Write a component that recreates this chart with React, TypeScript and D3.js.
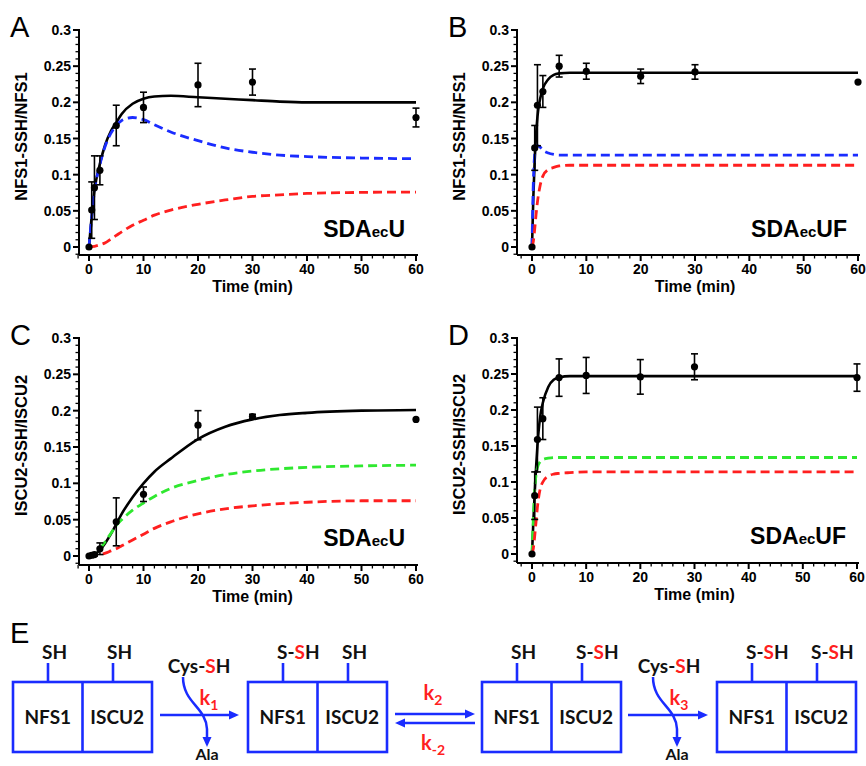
import React from "react";
import * as d3 from "d3";

// measured time points (min)
const sampleTimes = [0, 0.5, 1, 2, 5, 10, 20, 30, 60];
const aMean = [0, 0.051, 0.082, 0.106, 0.168, 0.193, 0.224, 0.228, 0.179];
const aErr = [0, 0.039, 0.044, 0.02, 0.028, 0.021, 0.03, 0.018, 0.013];
const bMean = [0, 0.137, 0.196, 0.215, 0.25, 0.243, 0.236, 0.242, 0.228];
const bErr = [0, 0.031, 0.056, 0.022, 0.015, 0.011, 0.01, 0.01, 0];
const cMean = [0, 0.001, 0.002, 0.01, 0.047, 0.085, 0.18, 0.192, 0.188];
const cErr = [0, 0, 0.002, 0.008, 0.033, 0.01, 0.02, 0.003, 0];
const dMean = [0, 0.081, 0.159, 0.188, 0.245, 0.248, 0.246, 0.26, 0.245];
const dErr = [0, 0.033, 0.045, 0.029, 0.026, 0.025, 0.024, 0.018, 0.019];

// model curves
const slowTimes = [0, 1, 2, 3, 4, 5, 6, 8, 10, 12, 15, 20, 25, 30, 35, 40, 50, 60];
const fastTimes = [0, 0.25, 0.5, 0.75, 1, 1.5, 2, 3, 4, 5, 7, 10, 20, 40, 60];

const aTotal = [0, 0.078, 0.115, 0.142, 0.16, 0.172, 0.184, 0.198, 0.205, 0.208, 0.209, 0.207, 0.205, 0.203, 0.201, 0.2, 0.2, 0.2];
const aFirst = [0, 0.077, 0.114, 0.14, 0.157, 0.168, 0.175, 0.179, 0.176, 0.169, 0.159, 0.147, 0.137, 0.131, 0.127, 0.125, 0.123, 0.122];
const aBoth = [0, 0.001, 0.003, 0.006, 0.011, 0.016, 0.021, 0.03, 0.037, 0.044, 0.051, 0.059, 0.065, 0.07, 0.072, 0.074, 0.0755, 0.076];

const bTotal = [0, 0.07, 0.12, 0.155, 0.18, 0.205, 0.219, 0.232, 0.238, 0.24, 0.241, 0.241, 0.241, 0.241, 0.241];
const bFirst = [0, 0.09, 0.128, 0.138, 0.14, 0.138, 0.134, 0.13, 0.128, 0.127, 0.127, 0.127, 0.127, 0.127, 0.127];
const bBoth = [0, 0.008, 0.025, 0.045, 0.062, 0.085, 0.098, 0.107, 0.11, 0.112, 0.113, 0.113, 0.113, 0.113, 0.113];

const cTotal = [0, 0.002, 0.008, 0.018, 0.03, 0.044, 0.058, 0.081, 0.1, 0.116, 0.134, 0.161, 0.178, 0.188, 0.194, 0.197, 0.2, 0.201];
const cSecond = [0, 0.002, 0.01, 0.02, 0.031, 0.042, 0.05, 0.063, 0.073, 0.082, 0.093, 0.104, 0.112, 0.117, 0.12, 0.122, 0.124, 0.125];
const cBoth = [0, 0.001, 0.002, 0.004, 0.007, 0.01, 0.014, 0.022, 0.03, 0.038, 0.047, 0.058, 0.065, 0.069, 0.072, 0.074, 0.076, 0.076];

const dTotal = [0, 0.045, 0.085, 0.12, 0.15, 0.19, 0.21, 0.232, 0.242, 0.245, 0.247, 0.247, 0.247, 0.247, 0.247];
const dSecond = [0, 0.05, 0.09, 0.11, 0.12, 0.128, 0.131, 0.133, 0.134, 0.134, 0.134, 0.134, 0.134, 0.134, 0.134];
const dBoth = [0, 0.008, 0.025, 0.045, 0.065, 0.09, 0.1, 0.108, 0.111, 0.112, 0.113, 0.114, 0.114, 0.114, 0.114];

const BLUE = "#1a2cff";
const RED = "#ff1f1f";
const GREEN = "#2fe82f";
const FONT = "'Liberation Sans', Arial, sans-serif";
const DFONT = "Lato, 'Open Sans', sans-serif";

type Curve = { t: number[]; v: number[]; color: string; dashed: boolean };

function Panel(props: {
  axisX: number; x0: number; x1: number; yBottom: number; yTop: number; base: number;
  letter: string; ylabel: string; tagMain: string; tagTail: string;
  mean: number[]; err: number[]; curves: Curve[];
}) {
  const { axisX, x0, x1, yBottom, yTop, base, letter, ylabel, tagMain, tagTail, mean, err, curves } = props;
  const x = d3.scaleLinear().domain([0, 60]).range([x0, x1]);
  const y = d3.scaleLinear().domain([0, 0.3]).range([yBottom, yTop]);
  const line = d3.line<[number, number]>().x(d => x(d[0])).y(d => y(d[1])).curve(d3.curveMonotoneX);
  const minorX = d3.range(-2, 61, 2).filter(v => v % 10 !== 0);
  const minorY = d3.range(-0.01, 0.3, 0.01).filter(v => Math.abs(Math.round(v * 100) % 5) !== 0);
  const xEnd = x(60) + 2;
  const midX = (x0 + x1) / 2;
  const midY = (yTop + base) / 2 - 6;
  const dashed = curves.filter(c => c.dashed);
  const solid = curves.filter(c => !c.dashed);
  return (
    <g>
      <text x={axisX - 69} y={yTop + 7} fontFamily={FONT} fontSize={29}>{letter}</text>
      <text transform={`translate(${axisX - 52},${midY}) rotate(-90)`} textAnchor="middle"
        fontFamily={FONT} fontWeight="bold" fontSize={16.5}>{ylabel}</text>
      {/* y axis */}
      <line x1={axisX} x2={axisX} y1={yTop - 1} y2={base} stroke="#000" strokeWidth={2} />
      {y.ticks(6).map(v => (
        <g key={"y" + v}>
          <line x1={axisX - 6} x2={axisX} y1={y(v)} y2={y(v)} stroke="#000" strokeWidth={2} />
          <text x={axisX - 8} y={y(v) + 5} textAnchor="end" fontFamily={FONT} fontWeight="bold" fontSize={14}>
            {String(+v.toFixed(2))}
          </text>
        </g>
      ))}
      {minorY.map(v => (
        <line key={"my" + v} x1={axisX - 3.5} x2={axisX} y1={y(v)} y2={y(v)} stroke="#000" strokeWidth={1.3} />
      ))}
      {/* x axis */}
      <line x1={axisX} x2={xEnd} y1={base} y2={base} stroke="#000" strokeWidth={2} />
      {x.ticks(6).map(v => (
        <g key={"x" + v}>
          <line x1={x(v)} x2={x(v)} y1={base} y2={base + 6} stroke="#000" strokeWidth={2} />
          <text x={x(v)} y={base + 19} textAnchor="middle" fontFamily={FONT} fontWeight="bold" fontSize={14}>{v}</text>
        </g>
      ))}
      {minorX.map(v => (
        <line key={"mx" + v} x1={x(v)} x2={x(v)} y1={base} y2={base + 3.5} stroke="#000" strokeWidth={1.3} />
      ))}
      <text x={midX} y={base + 37} textAnchor="middle" fontFamily={FONT} fontWeight="bold" fontSize={16}>Time (min)</text>
      {/* curves */}
      {solid.map((c, i) => (
        <path key={"s" + i} d={line(c.t.map((t, j) => [t, c.v[j]] as [number, number])) || ""}
          fill="none" stroke={c.color} strokeWidth={2.6} />
      ))}
      {dashed.map((c, i) => (
        <path key={"d" + i} d={line(c.t.map((t, j) => [t, c.v[j]] as [number, number])) || ""}
          fill="none" stroke={c.color} strokeWidth={2.8} strokeDasharray="9,5" />
      ))}
      {/* data */}
      {sampleTimes.map((t, i) => (
        <g key={"p" + i}>
          {err[i] > 0 && (
            <g stroke="#000" strokeWidth={1.6}>
              <line x1={x(t)} x2={x(t)} y1={y(mean[i] - err[i])} y2={y(mean[i] + err[i])} />
              <line x1={x(t) - 3.5} x2={x(t) + 3.5} y1={y(mean[i] - err[i])} y2={y(mean[i] - err[i])} />
              <line x1={x(t) - 3.5} x2={x(t) + 3.5} y1={y(mean[i] + err[i])} y2={y(mean[i] + err[i])} />
            </g>
          )}
          <circle cx={x(t)} cy={y(mean[i])} r={3.6} fill="#000" />
        </g>
      ))}
      <text x={x(60) - 11} y={yBottom - 10} textAnchor="end" fontFamily={FONT} fontWeight="bold" fontSize={23}>
        {tagMain}<tspan fontSize={15}>ec</tspan>{tagTail}
      </text>
    </g>
  );
}

// scheme (panel E)
const boxLefts = [13, 248, 482, 717];
const boxWidth = 139;
const leftLabels = [["SH"], ["S-", "S", "H"], ["SH"], ["S-", "S", "H"]];
const rightLabels = [["SH"], ["SH"], ["S-", "S", "H"], ["S-", "S", "H"]];
const boxTop = 682;
const boxBottom = 752;

function Label({ x, y, parts }: { x: number; y: number; parts: string[] }) {
  return (
    <text x={x} y={y} fontFamily={DFONT} fontWeight="bold" fontSize={19} fill="#111">
      {parts.map((p, i) => (
        <tspan key={i} fill={parts.length === 3 && i === 1 ? RED : "#111"}>{p}</tspan>
      ))}
    </text>
  );
}

function Arrow({ x1, x2, y }: { x1: number; x2: number; y: number }) {
  const dir = x2 > x1 ? 1 : -1;
  return (
    <g>
      <line x1={x1} x2={x2 - dir * 6} y1={y} y2={y} stroke={BLUE} strokeWidth={2.5} />
      <path d={`M${x2},${y} L${x2 - dir * 10},${y - 4.5} L${x2 - dir * 10},${y + 4.5} Z`} fill={BLUE} />
    </g>
  );
}

function KLabel({ x, y, sub }: { x: number; y: number; sub: string }) {
  return (
    <text x={x} y={y} fontFamily={DFONT} fontWeight="bold" fontSize={20} fill={RED} textAnchor="middle">
      k<tspan fontSize={14} dy={5}>{sub}</tspan>
    </text>
  );
}

function CysStep({ cx, ax1, ax2, k }: { cx: number; ax1: number; ax2: number; k: string }) {
  const sx = cx - 16;
  return (
    <g>
      <Arrow x1={ax1} x2={ax2} y={715} />
      <text x={cx} y={673} textAnchor="middle" fontFamily={DFONT} fontWeight="bold" fontSize={19} fill="#111">
        Cys-<tspan fill={RED}>S</tspan>H
      </text>
      <path d={`M${sx},677 C${sx},703 ${sx + 23},707 ${sx + 24},729 L${sx + 24},738`} fill="none" stroke={BLUE} strokeWidth={2.5} />
      <path d={`M${sx + 24},747 L${sx + 19.5},737 L${sx + 28.5},737 Z`} fill={BLUE} />
      <KLabel x={cx + 10} y={705} sub={k} />
      <text x={sx + 24} y={760} textAnchor="middle" fontFamily={DFONT} fontWeight="bold" fontSize={16} fill="#111">Ala</text>
    </g>
  );
}

export default function App() {
  return (
    <svg width={866} height={766} style={{ position: "absolute", left: 0, top: 0, background: "#fff" }}>
      <Panel axisX={79} x0={89} x1={416} yBottom={247} yTop={30} base={255} letter="A" ylabel="NFS1-SSH/NFS1"
        tagMain="SDA" tagTail="U" mean={aMean} err={aErr}
        curves={[
          { t: slowTimes, v: aTotal, color: "#000", dashed: false },
          { t: slowTimes, v: aFirst, color: BLUE, dashed: true },
          { t: slowTimes, v: aBoth, color: RED, dashed: true },
        ]} />
      <Panel axisX={517} x0={532} x1={858} yBottom={247} yTop={30} base={255} letter="B" ylabel="NFS1-SSH/NFS1"
        tagMain="SDA" tagTail="UF" mean={bMean} err={bErr}
        curves={[
          { t: fastTimes, v: bTotal, color: "#000", dashed: false },
          { t: fastTimes, v: bFirst, color: BLUE, dashed: true },
          { t: fastTimes, v: bBoth, color: RED, dashed: true },
        ]} />
      <Panel axisX={79} x0={89} x1={416} yBottom={556} yTop={338} base={565} letter="C" ylabel="ISCU2-SSH/ISCU2"
        tagMain="SDA" tagTail="U" mean={cMean} err={cErr}
        curves={[
          { t: slowTimes, v: cTotal, color: "#000", dashed: false },
          { t: slowTimes, v: cSecond, color: GREEN, dashed: true },
          { t: slowTimes, v: cBoth, color: RED, dashed: true },
        ]} />
      <Panel axisX={517} x0={532} x1={857} yBottom={554} yTop={338} base={563} letter="D" ylabel="ISCU2-SSH/ISCU2"
        tagMain="SDA" tagTail="UF" mean={dMean} err={dErr}
        curves={[
          { t: fastTimes, v: dTotal, color: "#000", dashed: false },
          { t: fastTimes, v: dSecond, color: GREEN, dashed: true },
          { t: fastTimes, v: dBoth, color: RED, dashed: true },
        ]} />

      {/* E: reaction scheme */}
      <text x={10} y={643} fontFamily={FONT} fontSize={29}>E</text>
      {boxLefts.map((bx, i) => {
        const half = boxWidth / 2;
        const s1 = bx + 35;
        const s2 = bx + 100;
        return (
          <g key={"box" + i}>
            <rect x={bx} y={boxTop} width={boxWidth} height={boxBottom - boxTop} fill="#fff" stroke={BLUE} strokeWidth={2.6} />
            <line x1={bx + half} x2={bx + half} y1={boxTop} y2={boxBottom} stroke={BLUE} strokeWidth={2.6} />
            <line x1={s1} x2={s1} y1={boxTop} y2={663} stroke={BLUE} strokeWidth={2.6} />
            <line x1={s2} x2={s2} y1={boxTop} y2={663} stroke={BLUE} strokeWidth={2.6} />
            <Label x={s1 - 6} y={659} parts={leftLabels[i]} />
            <Label x={s2 - 6} y={659} parts={rightLabels[i]} />
            <text x={bx + half / 2} y={724} textAnchor="middle" fontFamily={DFONT} fontWeight="bold" fontSize={19} fill="#111">NFS1</text>
            <text x={bx + half * 1.5} y={724} textAnchor="middle" fontFamily={DFONT} fontWeight="bold" fontSize={19} fill="#111">ISCU2</text>
          </g>
        );
      })}
      <CysStep cx={199} ax1={160} ax2={239} k="1" />
      <Arrow x1={395} x2={475} y={714} />
      <Arrow x1={475} x2={395} y={723} />
      <KLabel x={433} y={700} sub="2" />
      <KLabel x={433} y={750} sub="-2" />
      <CysStep cx={669} ax1={628} ax2={708} k="3" />
    </svg>
  );
}
